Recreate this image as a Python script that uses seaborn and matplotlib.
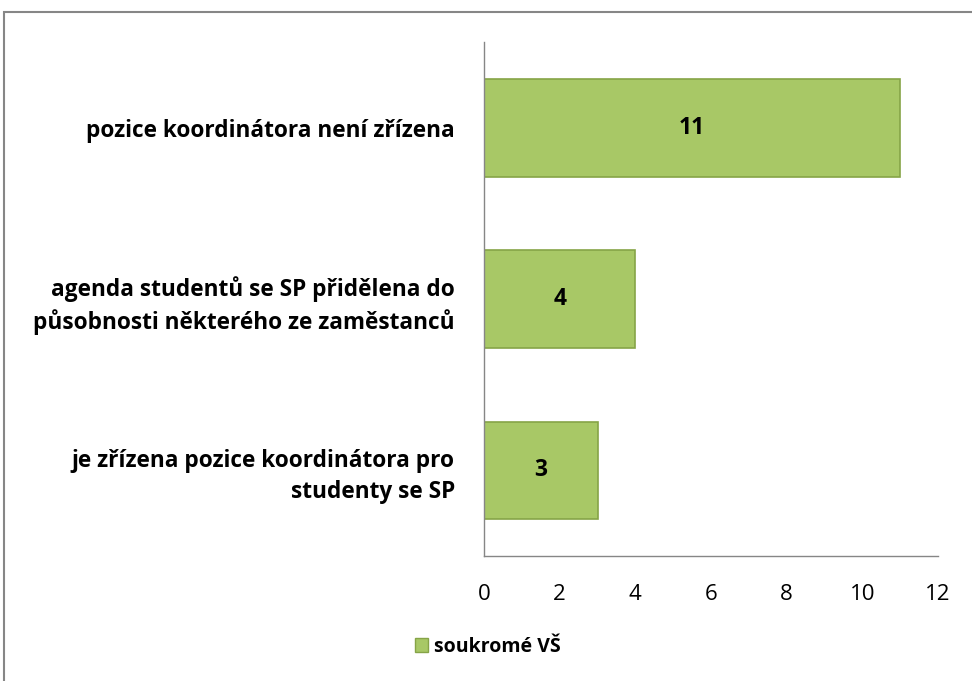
import pandas as pd
import matplotlib.pyplot as plt
import matplotlib.patches as mpatches
import seaborn as sns

# Data
categories = [
    "pozice koordinátora není zřízena",
    "agenda studentů se SP přidělena do\npůsobnosti některého ze zaměstanců",
    "je zřízena pozice koordinátora pro\nstudenty se SP",
]
values = [11, 4, 3]
series_name = "soukromé VŠ"
x_ticks = [0, 2, 4, 6, 8, 10, 12]

df = pd.DataFrame({"kategorie": categories, "pocet": values})

sns.set_style("white")
plt.rcParams['font.family'] = ['Open Sans', 'DejaVu Sans']
plt.rcParams['text.color'] = 'black'
plt.rcParams['xtick.color'] = 'black'
plt.rcParams['ytick.color'] = 'black'

fig = plt.figure(figsize=(9.72, 6.81), dpi=100)
ax = fig.add_axes([0.498, 0.1836, 0.467, 0.7544])

bar_color = "#a8c866"
sns.barplot(data=df, y="kategorie", x="pocet", orient="h", color=bar_color,
            width=0.57, saturation=1, edgecolor="#86a447", linewidth=1.2, ax=ax)

# value labels in the middle of each bar
for i, v in enumerate(values):
    ax.text(v / 2, i, str(v), ha="center", va="center", fontsize=16.5, fontweight="bold", color="black")

ax.set_xlim(0, 12)
ax.set_xticks(x_ticks)
ax.set_xlabel("")
ax.set_ylabel("")
ax.tick_params(axis="x", labelsize=16, length=0, pad=20)
ax.tick_params(axis="y", labelsize=16.3, length=0, pad=21)
for lbl in ax.get_yticklabels():
    lbl.set_fontweight("bold")
    lbl.set_linespacing(1.35)

for side in ["top", "right"]:
    ax.spines[side].set_visible(False)
for side in ["left", "bottom"]:
    ax.spines[side].set_color("#868686")
    ax.spines[side].set_linewidth(1.0)

# legend below the plot
handle = mpatches.Patch(facecolor=bar_color, edgecolor="#86a447", label=series_name)
leg = fig.legend(handles=[handle], loc="center", bbox_to_anchor=(0.502, 0.05), frameon=False,
                 prop={"size": 14, "weight": "bold"}, handlelength=0.7, handleheight=0.7, handletextpad=0.3)

# outer chart border
border = mpatches.Rectangle((4 / 972, -0.01), 1.0, (681 - 12) / 681 + 0.01, transform=fig.transFigure,
                            fill=False, edgecolor="#868686", linewidth=1.5)
fig.patches.append(border)

fig.savefig("out.png", dpi=100)
